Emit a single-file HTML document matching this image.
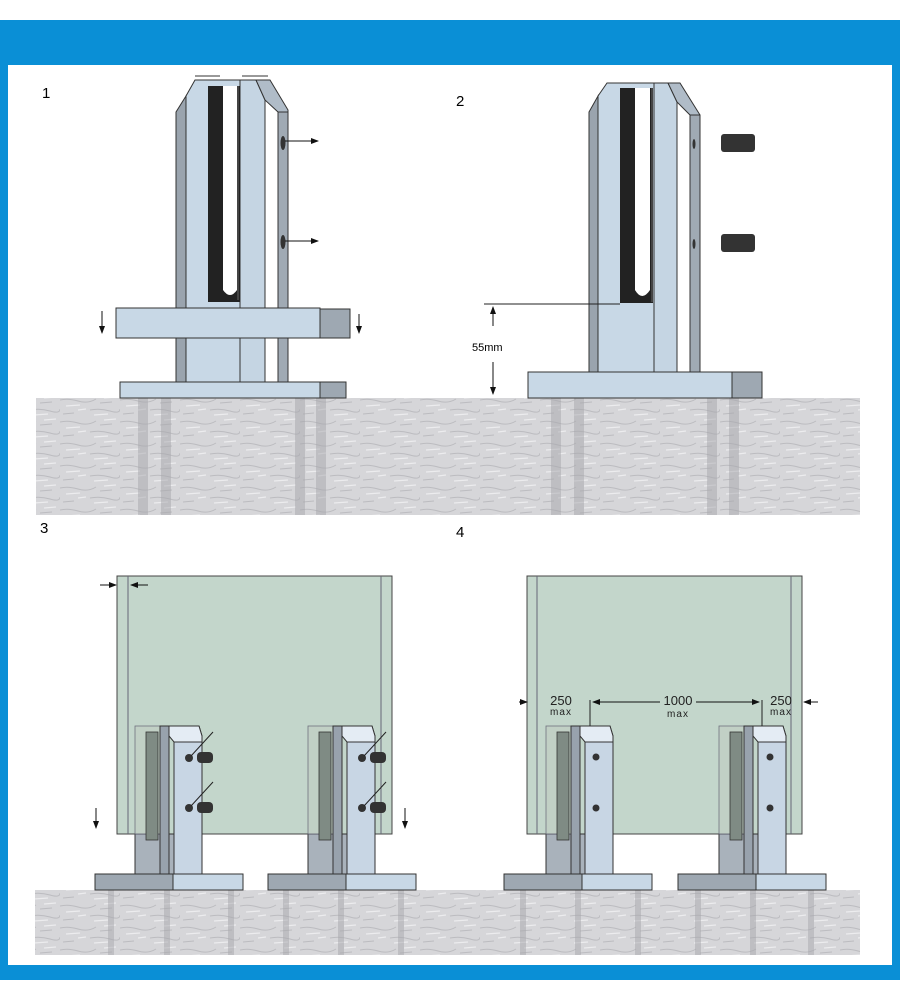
<!DOCTYPE html>
<html><head><meta charset="utf-8"><style>
html,body{margin:0;padding:0;background:#fff;}
svg{display:block;}
text{font-family:"Liberation Sans",sans-serif;}
</style></head><body>
<svg width="900" height="1000" viewBox="0 0 900 1000" xmlns="http://www.w3.org/2000/svg">
<defs>
<pattern id="conc" width="60" height="22" patternUnits="userSpaceOnUse">
<rect width="60" height="22" fill="#d6d6d9"/>
<path d="M0 4 Q8 2 18 5 T36 3 M30 14 Q40 12 50 15 T60 13 M3 18 L14 17 M40 7 L52 6" stroke="#bcbcc0" stroke-width="1" fill="none"/>
<path d="M6 10 L20 9 M34 19 L48 18 M44 2 L56 1 M18 14 L26 13" stroke="#ececee" stroke-width="1.2"/>
</pattern>
<marker id="ah" markerWidth="8" markerHeight="6" refX="7" refY="3" orient="auto"><path d="M0 0 L8 3 L0 6 Z" fill="#111"/></marker>
<g id="post3">
<rect x="0" y="108" width="67" height="40" fill="#a9b2bb" stroke="#333" stroke-width="1"/>
<rect x="0" y="0" width="25" height="108" fill="#c1d0c5" stroke="#667" stroke-width="0.8" opacity="0.9"/>
<rect x="11" y="6" width="12" height="108" fill="#7f8b84" stroke="#333" stroke-width="0.8"/>
<path d="M25 0 L34 0 L34 148 L25 148 Z" fill="#98a2ad" stroke="#333" stroke-width="1"/>
<path d="M34 0 L64 0 L67 10 L67 148 L39 148 L39 14 Z" fill="#c8d6e4" stroke="#333" stroke-width="1"/>
<path d="M34 0 L64 0 L67 10 L67 16 L39 16 L34 10 Z" fill="#e4ecf4" stroke="#333" stroke-width="1"/>
</g>
</defs>
<rect x="0" y="20" width="900" height="960" fill="#0a8fd6"/>
<rect x="8" y="65" width="884" height="900" fill="#fff"/>

<rect x="36" y="398" width="824" height="117" fill="url(#conc)"/>
<g fill="#a8a8ad" opacity="0.5">
<rect x="138" y="398" width="10" height="117"/><rect x="161" y="398" width="10" height="117"/>
<rect x="295" y="398" width="10" height="117"/><rect x="316" y="398" width="10" height="117"/>
<rect x="551" y="398" width="10" height="117"/><rect x="574" y="398" width="10" height="117"/>
<rect x="707" y="398" width="10" height="117"/><rect x="729" y="398" width="10" height="117"/>
</g>
<rect x="35" y="890" width="825" height="65" fill="url(#conc)"/>
<g fill="#a8a8ad" opacity="0.5">
<rect x="108" y="890" width="6" height="65"/><rect x="164" y="890" width="6" height="65"/><rect x="228" y="890" width="6" height="65"/>
<rect x="283" y="890" width="6" height="65"/><rect x="338" y="890" width="6" height="65"/><rect x="398" y="890" width="6" height="65"/>
<rect x="520" y="890" width="6" height="65"/><rect x="575" y="890" width="6" height="65"/><rect x="635" y="890" width="6" height="65"/>
<rect x="695" y="890" width="6" height="65"/><rect x="750" y="890" width="6" height="65"/><rect x="808" y="890" width="6" height="65"/>
</g>

<text x="42" y="98" font-size="15">1</text>
<text x="456" y="106" font-size="15">2</text>
<text x="40" y="533" font-size="15">3</text>
<text x="456" y="537" font-size="15">4</text>

<!-- Panel 1 post -->
<g stroke="#333" stroke-width="1">
<path d="M176 112 L186 96 L186 382 L176 382 Z" fill="#9aa4ae"/>
<path d="M186 96 L195 80 L240 80 L240 382 L186 382 Z" fill="#c8d8e6"/>
<path d="M240 80 L256 80 L265 100 L265 382 L240 382 Z" fill="#c5d5e3"/>
<path d="M256 80 L270 80 L288 110 L288 382 L278 382 L278 112 L265 100 Z" fill="#b0bcc8"/>
<rect x="278" y="112" width="10" height="270" fill="#a0aab4"/>
</g>
<line x1="195" y1="76" x2="220" y2="76" stroke="#333"/><line x1="242" y1="76" x2="268" y2="76" stroke="#333"/>
<path d="M208 86 L240 86 L240 302 L208 302 Z" fill="#222"/>
<path d="M223 86 L237 86 L237 290 Q230 300 223 290 Z" fill="#fff"/>
<rect x="237" y="86" width="2" height="214" fill="#444"/>
<ellipse cx="283" cy="143" rx="2.5" ry="7" fill="#333"/><ellipse cx="283" cy="242" rx="2.5" ry="7" fill="#333"/>
<line x1="285" y1="141" x2="318" y2="141" stroke="#111" marker-end="url(#ah)"/>
<line x1="285" y1="241" x2="318" y2="241" stroke="#111" marker-end="url(#ah)"/>
<rect x="116" y="308" width="204" height="30" fill="#c8d8e6" stroke="#333"/>
<rect x="320" y="309" width="30" height="29" fill="#9ea8b2" stroke="#333"/>
<line x1="102" y1="311" x2="102" y2="333" stroke="#111" marker-end="url(#ah)"/>
<line x1="359" y1="314" x2="359" y2="333" stroke="#111" marker-end="url(#ah)"/>
<rect x="120" y="382" width="200" height="16" fill="#c8d8e6" stroke="#333"/>
<rect x="320" y="382" width="26" height="16" fill="#9ea8b2" stroke="#333"/>

<!-- Panel 2 post -->
<g stroke="#333" stroke-width="1">
<path d="M589 112 L598 96 L598 372 L589 372 Z" fill="#9aa4ae"/>
<path d="M598 96 L607 83 L654 83 L654 372 L598 372 Z" fill="#c8d8e6"/>
<path d="M654 83 L668 83 L677 102 L677 372 L654 372 Z" fill="#c5d5e3"/>
<path d="M668 83 L680 83 L700 115 L700 372 L690 372 L690 115 L677 102 Z" fill="#b0bcc8"/>
<rect x="690" y="115" width="10" height="257" fill="#a0aab4"/>
</g>
<path d="M620 88 L653 88 L653 303 L620 303 Z" fill="#222"/>
<path d="M635 88 L650 88 L650 290 Q642 302 635 290 Z" fill="#fff"/>
<rect x="651" y="88" width="2" height="214" fill="#444"/>
<ellipse cx="694" cy="144" rx="1.5" ry="5" fill="#333"/><ellipse cx="694" cy="244" rx="1.5" ry="5" fill="#333"/>
<rect x="721" y="134" width="34" height="18" rx="3" fill="#333"/>
<rect x="721" y="234" width="34" height="18" rx="3" fill="#333"/>
<rect x="528" y="372" width="204" height="26" fill="#c8d8e6" stroke="#333"/>
<rect x="732" y="372" width="30" height="26" fill="#9ea8b2" stroke="#333"/>
<line x1="484" y1="304" x2="620" y2="304" stroke="#222"/>
<line x1="493" y1="326" x2="493" y2="307" stroke="#111" marker-end="url(#ah)"/>
<line x1="493" y1="362" x2="493" y2="394" stroke="#111" marker-end="url(#ah)"/>
<text x="472" y="351" font-size="11">55mm</text>

<!-- Panel 3 -->
<rect x="117" y="576" width="275" height="258" fill="#c3d6cb" stroke="#444"/>
<line x1="128" y1="576" x2="128" y2="834" stroke="#667"/><line x1="381" y1="576" x2="381" y2="834" stroke="#667"/>
<line x1="100" y1="585" x2="116" y2="585" stroke="#111" marker-end="url(#ah)"/>
<line x1="148" y1="585" x2="131" y2="585" stroke="#111" marker-end="url(#ah)"/>
<line x1="96" y1="808" x2="96" y2="828" stroke="#111" marker-end="url(#ah)"/>
<line x1="405" y1="808" x2="405" y2="828" stroke="#111" marker-end="url(#ah)"/>
<use href="#post3" x="135" y="726"/>
<use href="#post3" x="308" y="726"/>
<rect x="95" y="874" width="78" height="16" fill="#9ea8b2" stroke="#333"/><rect x="173" y="874" width="70" height="16" fill="#c8d8e6" stroke="#333"/>
<rect x="268" y="874" width="78" height="16" fill="#9ea8b2" stroke="#333"/><rect x="346" y="874" width="70" height="16" fill="#c8d8e6" stroke="#333"/>
<g fill="#333">
<circle cx="189" cy="758" r="4"/><rect x="197" y="752" width="16" height="11" rx="4"/>
<circle cx="189" cy="808" r="4"/><rect x="197" y="802" width="16" height="11" rx="4"/>
<circle cx="362" cy="758" r="4"/><rect x="370" y="752" width="16" height="11" rx="4"/>
<circle cx="362" cy="808" r="4"/><rect x="370" y="802" width="16" height="11" rx="4"/>
</g>
<g stroke="#222" stroke-width="1">
<line x1="191" y1="756" x2="213" y2="732"/><line x1="191" y1="806" x2="213" y2="782"/>
<line x1="364" y1="756" x2="386" y2="732"/><line x1="364" y1="806" x2="386" y2="782"/>
</g>

<!-- Panel 4 -->
<rect x="527" y="576" width="275" height="258" fill="#c3d6cb" stroke="#444"/>
<line x1="537" y1="576" x2="537" y2="834" stroke="#667"/><line x1="791" y1="576" x2="791" y2="834" stroke="#667"/>
<use href="#post3" x="546" y="726"/>
<use href="#post3" x="719" y="726"/>
<rect x="504" y="874" width="78" height="16" fill="#9ea8b2" stroke="#333"/><rect x="582" y="874" width="70" height="16" fill="#c8d8e6" stroke="#333"/>
<rect x="678" y="874" width="78" height="16" fill="#9ea8b2" stroke="#333"/><rect x="756" y="874" width="70" height="16" fill="#c8d8e6" stroke="#333"/>
<g fill="#333">
<circle cx="596" cy="757" r="3.5"/><circle cx="596" cy="808" r="3.5"/>
<circle cx="770" cy="757" r="3.5"/><circle cx="770" cy="808" r="3.5"/>
</g>
<line x1="590" y1="700" x2="590" y2="726" stroke="#222"/>
<line x1="762" y1="700" x2="762" y2="726" stroke="#222"/>
<line x1="660" y1="702" x2="593" y2="702" stroke="#111" marker-end="url(#ah)"/>
<line x1="696" y1="702" x2="759" y2="702" stroke="#111" marker-end="url(#ah)"/>
<line x1="519" y1="702" x2="527" y2="702" stroke="#111" marker-end="url(#ah)"/>
<line x1="818" y1="702" x2="804" y2="702" stroke="#111" marker-end="url(#ah)"/>
<g font-size="13" fill="#222" text-anchor="middle">
<text x="561" y="705">250</text><text x="678" y="705">1000</text><text x="781" y="705">250</text>
</g>
<g font-size="10" fill="#222" text-anchor="middle" letter-spacing="1">
<text x="561" y="715">max</text><text x="678" y="717">max</text><text x="781" y="715">max</text>
</g>
</svg>
</body></html>
